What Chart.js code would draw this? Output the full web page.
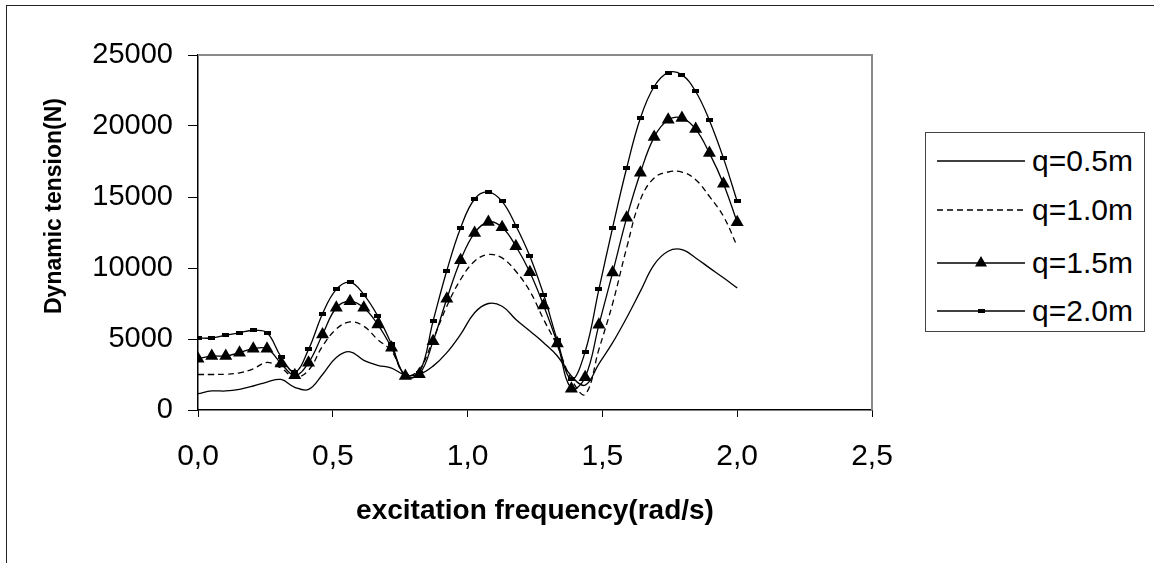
<!DOCTYPE html>
<html>
<head>
<meta charset="utf-8">
<script src="https://cdn.jsdelivr.net/npm/chart.js@4.4.1/dist/chart.umd.min.js"></script>
<style>
  html, body { margin: 0; padding: 0; background: #fff; }
  #wrap { position: relative; width: 1154px; height: 563px; overflow: hidden; }
  #frame { position: absolute; left: 6px; top: 5px; width: 1160px; height: 600px;
           border-left: 1.5px solid #222; border-top: 1.5px solid #222; pointer-events: none; }
  #legend { position: absolute; left: 925px; top: 132px; width: 218px; height: 198px;
            border: 1.5px solid #444; background: #fff;
            font-family: "Liberation Sans", Arial, sans-serif; font-size: 30px; color: #000; }
  .row { position: absolute; left: 0; height: 40px; width: 218px; }
  .row svg { position: absolute; left: 11px; top: 0; }
  .row span { position: absolute; left: 106px; top: 2px; line-height: 36px; }
</style>
</head>
<body>
<div id="wrap">
  <canvas id="tensionChart"></canvas>
  <div id="frame"></div>
  <div id="legend"></div>
</div>
<script>
// excitation frequency (rad/s), 40 samples 0..2
const xValues = [0.000, 0.051, 0.103, 0.154, 0.205, 0.256, 0.308, 0.359, 0.410, 0.462,
                 0.513, 0.564, 0.615, 0.667, 0.718, 0.769, 0.821, 0.872, 0.923, 0.974,
                 1.026, 1.077, 1.128, 1.179, 1.231, 1.282, 1.333, 1.385, 1.436, 1.487,
                 1.538, 1.590, 1.641, 1.692, 1.744, 1.795, 1.846, 1.897, 1.949, 2.000];

// dynamic tension (N)
const q05 = [1150, 1340, 1340, 1460, 1690, 1970, 2150, 1600, 1450, 2500,
             3700, 4100, 3500, 3150, 2950, 2450, 2510, 3090, 4040, 5320,
             6850, 7500, 7310, 6380, 5560, 4740, 3800, 2390, 1750, 3250,
             4740, 6500, 8370, 10240, 11180, 11300, 10710, 10010, 9310, 8600];
const q10 = [2500, 2500, 2520, 2620, 2900, 3350, 2950, 2300, 2800, 4500,
             5700, 6200, 5900, 4950, 4150, 2450, 2860, 4970, 7310, 9190,
             10480, 10950, 10710, 9770, 8370, 6380, 4500, 2160, 1100, 4270,
             7500, 11420, 14810, 16340, 16760, 16760, 16220, 15040, 13640, 11530];
const q15 = [3610, 3800, 3800, 4040, 4320, 4320, 3280, 2440, 3330, 5320,
             7200, 7660, 7200, 6020, 4390, 2390, 2510, 4850, 7830, 10550,
             12470, 13240, 12870, 11530, 9700, 7360, 4690, 1500, 2300, 6000,
             9680, 13530, 16710, 19220, 20440, 20560, 19780, 18090, 15940, 13220];
const q20 = [5070, 5070, 5270, 5440, 5600, 5440, 3750, 2670, 4270, 6780,
             8490, 9000, 8130, 6610, 4620, 2390, 2600, 6260, 9820, 12820,
             14860, 15350, 14690, 12980, 10830, 8130, 4900, 2160, 4100, 8490,
             12850, 17040, 20560, 22780, 23760, 23600, 22430, 20390, 17740, 14690];

const seriesNames = ['q=0.5m', 'q=1.0m', 'q=1.5m', 'q=2.0m'];
const xTickLabels = ['0,0', '0,5', '1,0', '1,5', '2,0', '2,5'];
const yTickLabels = ['0', '5000', '10000', '15000', '20000', '25000'];
const yTitle = 'Dynamic tension(N)';

const FONT = '"Liberation Sans", Arial, sans-serif';

// small black rectangle marker for q=2.0m
const rectMark = document.createElement('canvas');
rectMark.width = 7;
rectMark.height = 4;
const rc = rectMark.getContext('2d');
rc.fillStyle = '#000';
rc.fillRect(0, 0, 7, 4);

function pts(arr) {
    return xValues.map((x, i) => ({ x: x, y: arr[i] }));
}

// grey frame on top and right of the plot area, y title placed like the original
const plotFrame = {
    id: 'plotFrame',
    beforeDatasetsDraw(chart) {
        const a = chart.chartArea;
        const ctx = chart.ctx;
        ctx.save();
        ctx.strokeStyle = '#8a8a8a';
        ctx.lineWidth = 2;
        ctx.beginPath();
        ctx.moveTo(a.left, a.top);
        ctx.lineTo(a.right, a.top);
        ctx.lineTo(a.right, a.bottom);
        ctx.stroke();

        ctx.translate(55, 206);
        ctx.rotate(-Math.PI / 2);
        ctx.fillStyle = '#000';
        ctx.font = 'bold 23px ' + FONT;
        ctx.textAlign = 'center';
        ctx.textBaseline = 'middle';
        ctx.fillText(yTitle, 0, 0);
        ctx.restore();
    }
};

const ctxTension = document.getElementById('tensionChart').getContext('2d');
const tensionChart = new Chart(ctxTension, {
    type: 'line',
    data: {
        datasets: [
            {
                label: seriesNames[0],
                data: pts(q05),
                borderColor: '#000',
                borderWidth: 1.3,
                pointRadius: 0,
                tension: 0.4,
                fill: false,
            },
            {
                label: seriesNames[1],
                data: pts(q10),
                borderColor: '#000',
                borderWidth: 1.3,
                borderDash: [6, 4],
                pointRadius: 0,
                tension: 0.4,
                fill: false,
            },
            {
                label: seriesNames[2],
                data: pts(q15),
                borderColor: '#000',
                borderWidth: 1.3,
                pointStyle: 'triangle',
                pointRadius: 7.5,
                pointBackgroundColor: '#000',
                pointBorderColor: '#000',
                pointBorderWidth: 0,
                tension: 0.4,
                fill: false,
            },
            {
                label: seriesNames[3],
                data: pts(q20),
                borderColor: '#000',
                borderWidth: 1.3,
                pointStyle: rectMark,
                pointRadius: 3,
                tension: 0.4,
                fill: false,
            }
        ]
    },
    options: {
        responsive: true,
        maintainAspectRatio: false,
        animation: false,
        layout: { padding: { left: 0, top: 55, right: 282, bottom: 0 } },
        plugins: {
            legend: { display: false },
            tooltip: { enabled: false }
        },
        scales: {
            x: {
                type: 'linear',
                min: 0,
                max: 2.5,
                afterFit: function(scale) { scale.height = 153; },
                ticks: {
                    stepSize: 0.5,
                    color: '#000',
                    padding: 22,
                    font: { family: FONT, size: 30 },
                    callback: function(value, index) { return xTickLabels[index]; }
                },
                grid: { drawOnChartArea: false, drawTicks: true, tickLength: 7, color: '#000' },
                border: { color: '#000', width: 1.5 },
                title: {
                    display: true,
                    text: 'excitation frequency(rad/s)',
                    color: '#000',
                    font: { family: FONT, size: 28, weight: 'bold' },
                    padding: { top: 0, bottom: 35 }
                }
            },
            y: {
                min: 0,
                max: 25000,
                afterFit: function(scale) { scale.width = 198; },
                ticks: {
                    stepSize: 5000,
                    color: '#000',
                    padding: 15,
                    font: { family: FONT, size: 29 },
                    callback: function(value, index) { return yTickLabels[index]; }
                },
                grid: { drawOnChartArea: false, drawTicks: true, tickLength: 10, color: '#000' },
                border: { color: '#000', width: 1.5 }
            }
        }
    },
    plugins: [plotFrame]
});

// legend: line sample plus marker, like the original
const legendBox = document.getElementById('legend');
const rowTops = [8, 57, 110, 158];
seriesNames.forEach(function(name, i) {
    const row = document.createElement('div');
    row.className = 'row';
    row.style.top = rowTops[i] + 'px';
    let svg = '<svg width="90" height="40" xmlns="http://www.w3.org/2000/svg">';
    if (i === 1) {
        svg += '<line x1="0" y1="20" x2="88" y2="20" stroke="#000" stroke-width="1.3" stroke-dasharray="6,4"/>';
    } else {
        svg += '<line x1="0" y1="20" x2="88" y2="20" stroke="#000" stroke-width="1.3"/>';
    }
    if (i === 2) svg += '<polygon points="44,13 50,23.5 38,23.5" fill="#000"/>';
    if (i === 3) svg += '<rect x="41" y="18" width="7" height="4" fill="#000"/>';
    svg += '</svg>';
    row.innerHTML = svg + '<span>' + name + '</span>';
    legendBox.appendChild(row);
});
</script>
</body>
</html>
